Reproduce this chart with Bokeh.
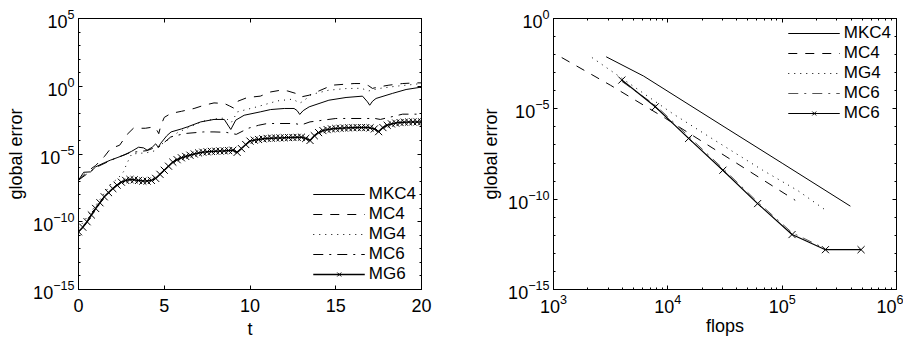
from bokeh.plotting import figure
from bokeh.models import (FixedTicker, LogAxis, LinearAxis, Legend, LegendItem,
                          CustomJSTickFormatter, Range1d)
from bokeh.layouts import row
from bokeh.embed import file_html
from bokeh.resources import INLINE

FONT = "Liberation Sans"

# ---------------- left panel: global error vs t (values as log10 exponents)
t_ticks = [0, 5, 10, 15, 20]
err_ticks_left = [1e-15, 1e-10, 1e-5, 1e0, 1e5]

t_mkc4 = [0, 0.3, 0.7, 1.0, 1.5, 1.85, 2.3, 2.7, 3.1, 3.5, 3.8, 4.0, 4.3, 4.5, 4.65, 4.8,
          5.15, 5.4, 6.0, 6.35, 7.13, 7.9, 8.5, 8.78, 8.88, 9.17, 9.66, 10.6, 11.2, 12.0,
          12.57, 12.75, 12.9, 13.1, 13.45, 14.6, 15.6, 16.56, 16.85, 16.98, 17.15, 17.35,
          18.3, 19.1, 19.86, 20.0]
exp_mkc4 = [-6.93, -6.35, -6.32, -5.95, -5.65, -5.46, -5.25, -5.05, -4.8, -4.5, -4.55, -4.72,
            -4.5, -4.25, -4.5, -4.2, -3.65, -3.37, -3.15, -3.0, -2.63, -2.45, -2.45, -3.0,
            -3.19, -2.5, -2.14, -1.89, -1.72, -1.64, -1.64, -1.8, -2.08, -1.8, -1.52, -1.03,
            -0.83, -0.73, -1.15, -1.40, -1.1, -0.9, -0.53, -0.24, -0.09, -0.09]

t_mc4 = [0, 0.5, 1.0, 1.5, 1.87, 2.4, 2.84, 3.2, 3.9, 4.4, 4.6, 4.68, 4.8, 5.0, 5.38, 6.0,
         6.74, 7.33, 7.9, 8.5, 8.8, 9.06, 9.3, 9.85, 10.6, 11.2, 11.8, 12.2, 12.67, 12.97,
         13.45, 14.03, 14.8, 16.07, 16.56, 16.9, 17.14, 17.5, 18.1, 18.9, 19.67, 20.0]
exp_mc4 = [-6.93, -6.3, -5.85, -5.2, -4.6, -4.35, -3.55, -3.1, -3.1, -3.0, -3.3, -3.5, -2.9,
           -2.3, -2.01, -1.85, -1.64, -1.40, -1.23, -1.27, -1.45, -1.62, -1.1, -0.83, -0.73,
           -0.42, -0.29, -0.35, -0.53, -0.79, -0.66, -0.34, 0.08, 0.2, 0.2, 0.05, -0.16,
           -0.05, 0.08, 0.2, 0.25, 0.25]

t_mg4 = [0, 1.0, 1.9, 2.3, 2.62, 2.82, 3.1, 3.5, 4.0, 4.5, 4.76, 5.19, 5.8, 6.5, 7.2, 8.1,
         8.6, 8.9, 9.27, 10.4, 11.6, 12.5, 12.9, 13.1, 13.6, 14.6, 15.6, 16.5, 16.9, 17.5,
         18.5, 20.0]
exp_mg4 = [-10.5, -8.8, -7.2, -6.8, -6.32, -5.7, -5.0, -4.96, -4.9, -4.75, -4.35, -3.98,
           -3.4, -3.0, -2.6, -2.38, -2.35, -2.7, -1.89, -1.52, -1.08, -0.95, -1.25, -1.1,
           -0.6, -0.29, -0.17, -0.15, -0.35, -0.17, 0.0, 0.2]

t_mc6 = [0, 1.0, 2.0, 3.0, 4.0, 4.5, 4.7, 5.38, 6.2, 7.3, 7.9, 8.6, 9.2, 9.9, 10.5, 11.0,
         12.6, 13.0, 13.5, 15.0, 17.3, 17.6, 18.9, 20.0]
exp_mc6 = [-6.93, -6.0, -5.4, -4.9, -4.75, -4.5, -4.47, -3.74, -3.49, -3.37, -3.37, -3.4,
           -3.55, -3.1, -2.88, -2.75, -2.75, -2.85, -2.63, -2.38, -2.38, -2.45, -2.06, -2.06]

t_mg6 = [0, 0.25, 0.5, 0.75, 1.0, 1.25, 1.5, 1.75, 2.0, 2.25, 2.5, 2.75, 3.0, 3.25, 3.5,
         3.75, 4.0, 4.25, 4.5, 4.75, 5.0, 5.25, 5.5, 5.75, 6.0, 6.25, 6.5, 6.75, 7.0, 7.25,
         7.5, 7.75, 8.0, 8.25, 8.5, 8.75, 9.0, 9.25, 9.5, 9.75, 10.0, 10.25, 10.5, 10.75,
         11.0, 11.25, 11.5, 11.75, 12.0, 12.25, 12.5, 12.75, 13.0, 13.25, 13.5, 13.75, 14.0,
         14.25, 14.5, 14.75, 15.0, 15.25, 15.5, 15.75, 16.0, 16.25, 16.5, 16.75, 17.0, 17.25,
         17.5, 17.75, 18.0, 18.25, 18.5, 18.75, 19.0, 19.25, 19.5, 19.75, 20.0]
exp_mg6 = [-10.74, -10.4, -10.0, -9.5, -9.02, -8.6, -8.16, -7.85, -7.55, -7.3,
           -7.08, -6.95, -6.88, -6.9, -6.95, -7.0, -7.0, -6.95, -6.8, -6.5,
           -6.2, -5.9, -5.6, -5.42, -5.28, -5.18, -5.09, -5.0, -4.92, -4.87,
           -4.84, -4.81, -4.79, -4.78, -4.77, -4.75, -4.72, -4.88, -4.6, -4.3,
           -4.05, -3.98, -3.93, -3.88, -3.85, -3.83, -3.82, -3.81, -3.8, -3.79,
           -3.78, -3.77, -3.76, -3.85, -4.0, -3.65, -3.42, -3.27, -3.2, -3.15,
           -3.12, -3.1, -3.08, -3.07, -3.06, -3.05, -3.05, -3.05, -3.07, -3.15,
           -3.35, -3.05, -2.88, -2.78, -2.72, -2.68, -2.65, -2.64, -2.63, -2.63,
           -2.63]

labels_left = ["MKC4", "MC4", "MG4", "MC6", "MG6"]

# ---------------- right panel: global error vs flops
flops_ticks = [1e3, 1e4, 1e5, 1e6]
err_ticks_right = [1e-15, 1e-10, 1e-5, 1e0]

flops_mkc4 = [2890, 6140, 31600, 100000, 395000]
err_mkc4 = [7.6e-3, 6.5e-4, 9.5e-7, 9.8e-9, 4.1e-11]

flops_mc4 = [1180, 3160, 9550, 31600, 130000]
err_mc4 = [6.9e-3, 2.0e-4, 2.95e-6, 2.5e-8, 8.7e-11]

flops_mg4 = [2170, 4370, 11000, 25100, 67600, 138000, 239000]
err_mg4 = [6.9e-3, 3.2e-4, 5.5e-6, 2.0e-7, 4.0e-9, 2.9e-10, 2.5e-11]

flops_mc6 = [3960, 7770, 15200, 30300, 61000, 122000, 239000]
err_mc6 = [3.3e-4, 1.6e-5, 3.0e-7, 5.0e-9, 7.0e-11, 1.4e-12, 1.8e-13]

flops_mg6 = [3960, 7770, 15200, 30300, 61000, 122000, 239000, 490000]
err_mg6 = [3.9e-4, 1.3e-5, 2.3e-7, 4.0e-9, 5.7e-11, 1.1e-12, 1.6e-13, 1.6e-13]

labels_right = ["MKC4", "MC4", "MG4", "MC6", "MC6"]

DASH = "9 8"
DOT = "1 5"
DASHDOT = "10 6 2 6"


def pw(exps):
    return [10.0 ** e for e in exps]


def style_axis(ax, show_labels=True, label_standoff=4, title_standoff=4):
    ax.major_tick_in = 4
    ax.major_tick_out = 0
    ax.minor_tick_in = 2
    ax.minor_tick_out = 0
    ax.axis_line_color = "black"
    ax.major_tick_line_color = "black"
    ax.minor_tick_line_color = "black"
    ax.major_label_text_font = FONT
    ax.major_label_text_color = "black"
    ax.axis_label_text_font = FONT
    ax.axis_label_text_font_size = "18px"
    ax.axis_label_text_font_style = "normal"
    ax.axis_label_text_color = "black"
    if show_labels:
        ax.major_label_text_font_size = "18px"
        ax.major_label_standoff = label_standoff
        ax.axis_label_standoff = title_standoff
    else:
        ax.major_label_text_font_size = "0px"
        ax.major_label_standoff = 0
        ax.axis_label_standoff = 0


def make_fig(x_range, y_range, x_log, xticks, xminor, yticks, yminor, xlabel,
             left_border, right_border, x_label_standoff, x_title_standoff):
    p = figure(frame_width=343, frame_height=271,
               x_range=x_range, y_range=y_range,
               x_axis_type="log" if x_log else "linear", y_axis_type="log",
               output_backend="svg", toolbar_location=None,
               min_border_left=left_border, min_border_right=right_border,
               min_border_top=18, min_border_bottom=50)
    p.grid.visible = False
    p.outline_line_color = "black"
    p.background_fill_color = "white"
    p.border_fill_color = "white"
    p.xaxis.ticker = FixedTicker(ticks=xticks, minor_ticks=xminor)
    p.yaxis.ticker = FixedTicker(ticks=yticks, minor_ticks=yminor)
    p.xaxis.axis_label = xlabel
    p.yaxis.axis_label = "global error"
    style_axis(p.xaxis[0], True, x_label_standoff, x_title_standoff)
    style_axis(p.yaxis[0])
    empty = "return ''"
    AxT = LogAxis if x_log else LinearAxis
    top = AxT(ticker=FixedTicker(ticks=xticks, minor_ticks=xminor),
              formatter=CustomJSTickFormatter(code=empty))
    style_axis(top, False)
    p.add_layout(top, "above")
    right = LogAxis(ticker=FixedTicker(ticks=yticks, minor_ticks=yminor),
                    formatter=CustomJSTickFormatter(code=empty))
    style_axis(right, False)
    p.add_layout(right, "right")
    return p


def make_legend(items, location, margin, padding):
    leg = Legend(items=items, location=location)
    leg.label_text_font = FONT
    leg.label_text_font_size = "17px"
    leg.label_text_color = "black"
    leg.glyph_width = 52
    leg.glyph_height = 14
    leg.label_height = 14
    leg.label_standoff = 4
    leg.spacing = -2
    leg.padding = padding
    leg.margin = margin
    leg.border_line_color = None
    leg.background_fill_alpha = 0
    return leg


# ---------------- left figure
decades_left = [10.0 ** k for k in range(-15, 6)]
p1 = make_fig(Range1d(0, 20), Range1d(1e-15, 1e5), False, t_ticks, [],
              err_ticks_left, decades_left, "t", 78, 57, 9, 4)

r1 = p1.line(t_mkc4, pw(exp_mkc4), line_color="black", line_width=1)
r2 = p1.line(t_mc4, pw(exp_mc4), line_color="black", line_width=1, line_dash=DASH)
r3 = p1.line(t_mg4, pw(exp_mg4), line_color="black", line_width=1, line_dash=DOT)
r4 = p1.line(t_mc6, pw(exp_mc6), line_color="black", line_width=1, line_dash=DASHDOT)
r5 = p1.line(t_mg6, pw(exp_mg6), line_color="black", line_width=1.5)
r5m = p1.scatter(t_mg6, pw(exp_mg6), marker="x", size=10, line_color="black", line_width=1)

leg1 = make_legend([LegendItem(label=labels_left[0], renderers=[r1]),
                    LegendItem(label=labels_left[1], renderers=[r2]),
                    LegendItem(label=labels_left[2], renderers=[r3]),
                    LegendItem(label=labels_left[3], renderers=[r4]),
                    LegendItem(label=labels_left[4], renderers=[r5, r5m])],
                   "bottom_right", 5, 8)
p1.add_layout(leg1)

# ---------------- right figure
decades_right = [10.0 ** k for k in range(-15, 1)]
minor_flops = [m * 10.0 ** k for k in range(3, 6) for m in range(2, 10)]
p2 = make_fig(Range1d(1e3, 1e6), Range1d(1e-15, 1e0), True, flops_ticks, minor_flops,
              err_ticks_right, decades_right, "flops", 70, 7, 4, 0)

q1 = p2.line(flops_mkc4, err_mkc4, line_color="black", line_width=1)
q2 = p2.line(flops_mc4, err_mc4, line_color="black", line_width=1, line_dash=DASH)
q3 = p2.line(flops_mg4, err_mg4, line_color="black", line_width=1, line_dash=DOT)
q4 = p2.line(flops_mc6, err_mc6, line_color="#555555", line_width=1, line_dash=DASHDOT)
q5 = p2.line(flops_mg6, err_mg6, line_color="black", line_width=1.2)
q5m = p2.scatter(flops_mg6, err_mg6, marker="x", size=10, line_color="black", line_width=1)

leg2 = make_legend([LegendItem(label=labels_right[0], renderers=[q1]),
                    LegendItem(label=labels_right[1], renderers=[q2]),
                    LegendItem(label=labels_right[2], renderers=[q3]),
                    LegendItem(label=labels_right[3], renderers=[q4]),
                    LegendItem(label=labels_right[4], renderers=[q5, q5m])],
                   "top_right", 5, 6)
p2.add_layout(leg2)

layout = row(p1, p2)
open("out.html", "w").write(file_html(layout, INLINE))
